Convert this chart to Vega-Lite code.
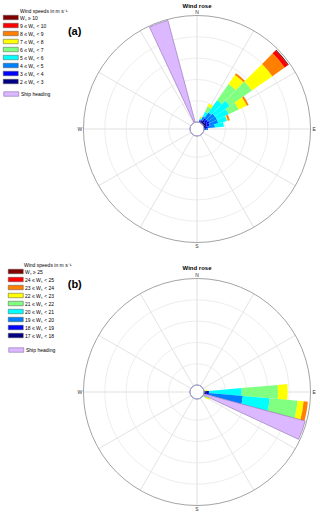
{
  "$schema": "https://vega.github.io/schema/vega-lite/v6.json",
  "padding": {"left": 3, "top": 2, "right": 0, "bottom": 0},
  "spacing": 37,
  "bounds": "flush",
  "config": {"view": {"stroke": null}, "font": "Liberation Sans"},
  "datasets": {
    "rings": [{"v": 1}, {"v": 2}, {"v": 3}, {"v": 4}],
    "outer": [{"v": 5}],
    "hole": [{"v": 0}],
    "spokes": [{"a": 0}, {"a": 30}, {"a": 60}, {"a": 90}, {"a": 120}, {"a": 150}, {"a": 180}, {"a": 210}, {"a": 240}, {"a": 270}, {"a": 300}, {"a": 330}],
    "dirs": [{"lab": "N", "a": 0}, {"lab": "E", "a": 90}, {"lab": "S", "a": 180}, {"lab": "W", "a": 270}],
    "catsA": [{"k": 10, "s": "Wₛ ≥ 10"}, {"k": 9, "s": "9 ≤ Wₛ < 10"}, {"k": 8, "s": "8 ≤ Wₛ < 9"}, {"k": 7, "s": "7 ≤ Wₛ < 8"}, {"k": 6, "s": "6 ≤ Wₛ < 7"}, {"k": 5, "s": "5 ≤ Wₛ < 6"}, {"k": 4, "s": "4 ≤ Wₛ < 5"}, {"k": 3, "s": "3 ≤ Wₛ < 4"}, {"k": 2, "s": "2 ≤ Wₛ < 3"}],
    "catsB": [{"k": 25, "s": "Wₛ ≥ 25"}, {"k": 24, "s": "24 ≤ Wₛ < 25"}, {"k": 23, "s": "23 ≤ Wₛ < 24"}, {"k": 22, "s": "22 ≤ Wₛ < 23"}, {"k": 21, "s": "21 ≤ Wₛ < 22"}, {"k": 20, "s": "20 ≤ Wₛ < 21"}, {"k": 19, "s": "19 ≤ Wₛ < 20"}, {"k": 18, "s": "18 ≤ Wₛ < 19"}, {"k": 17, "s": "17 ≤ Wₛ < 18"}],
    "windA": [
      {"d0": 15, "d1": 25, "k": 2, "f": 0.047}, {"d0": 15, "d1": 25, "k": 3, "f": 0.047}, {"d0": 15, "d1": 25, "k": 4, "f": 0.047}, {"d0": 15, "d1": 25, "k": 5, "f": 0.047}, {"d0": 15, "d1": 25, "k": 6, "f": 0.047}, {"d0": 15, "d1": 25, "k": 7, "f": 0.047},
      {"d0": 25, "d1": 35, "k": 2, "f": 0.094}, {"d0": 25, "d1": 35, "k": 3, "f": 0.047}, {"d0": 25, "d1": 35, "k": 4, "f": 0.188}, {"d0": 25, "d1": 35, "k": 5, "f": 0.235}, {"d0": 25, "d1": 35, "k": 6, "f": 0.282}, {"d0": 25, "d1": 35, "k": 7, "f": 0.141},
      {"d0": 35, "d1": 45, "k": 2, "f": 0.188}, {"d0": 35, "d1": 45, "k": 3, "f": 0.094}, {"d0": 35, "d1": 45, "k": 4, "f": 0.329}, {"d0": 35, "d1": 45, "k": 5, "f": 0.704}, {"d0": 35, "d1": 45, "k": 6, "f": 0.939}, {"d0": 35, "d1": 45, "k": 7, "f": 0.516}, {"d0": 35, "d1": 45, "k": 8, "f": 0.094},
      {"d0": 45, "d1": 55, "k": 2, "f": 0.141}, {"d0": 45, "d1": 55, "k": 3, "f": 0.141}, {"d0": 45, "d1": 55, "k": 4, "f": 0.423}, {"d0": 45, "d1": 55, "k": 5, "f": 0.845}, {"d0": 45, "d1": 55, "k": 6, "f": 1.268}, {"d0": 45, "d1": 55, "k": 7, "f": 1.174}, {"d0": 45, "d1": 55, "k": 8, "f": 0.704}, {"d0": 45, "d1": 55, "k": 9, "f": 0.188}, {"d0": 45, "d1": 55, "k": 10, "f": 0.047},
      {"d0": 55, "d1": 65, "k": 2, "f": 0.188}, {"d0": 55, "d1": 65, "k": 3, "f": 0.141}, {"d0": 55, "d1": 65, "k": 4, "f": 0.376}, {"d0": 55, "d1": 65, "k": 5, "f": 0.61}, {"d0": 55, "d1": 65, "k": 6, "f": 0.516}, {"d0": 55, "d1": 65, "k": 7, "f": 0.423}, {"d0": 55, "d1": 65, "k": 8, "f": 0.094},
      {"d0": 65, "d1": 75, "k": 2, "f": 0.141}, {"d0": 65, "d1": 75, "k": 3, "f": 0.141}, {"d0": 65, "d1": 75, "k": 4, "f": 0.423}, {"d0": 65, "d1": 75, "k": 5, "f": 0.423}, {"d0": 65, "d1": 75, "k": 6, "f": 0.023}, {"d0": 65, "d1": 75, "k": 7, "f": 0.023}, {"d0": 65, "d1": 75, "k": 8, "f": 0.094},
      {"d0": 75, "d1": 85, "k": 2, "f": 0.094}, {"d0": 75, "d1": 85, "k": 3, "f": 0.094}, {"d0": 75, "d1": 85, "k": 4, "f": 0.329}, {"d0": 75, "d1": 85, "k": 5, "f": 0.423},
      {"d0": 85, "d1": 95, "k": 2, "f": 0.047}, {"d0": 85, "d1": 95, "k": 3, "f": 0.047}, {"d0": 85, "d1": 95, "k": 4, "f": 0.094}
    ],
    "windB": [
      {"d0": 75, "d1": 85, "k": 21, "f": 0.07}, {"d0": 75, "d1": 85, "k": 22, "f": 0.07},
      {"d0": 85, "d1": 95, "k": 17, "f": 0.188}, {"d0": 85, "d1": 95, "k": 18, "f": 0.047}, {"d0": 85, "d1": 95, "k": 20, "f": 1.535}, {"d0": 85, "d1": 95, "k": 21, "f": 1.704}, {"d0": 85, "d1": 95, "k": 22, "f": 0.455},
      {"d0": 95, "d1": 105, "k": 17, "f": 0.141}, {"d0": 95, "d1": 105, "k": 18, "f": 0.094}, {"d0": 95, "d1": 105, "k": 19, "f": 1.596}, {"d0": 95, "d1": 105, "k": 20, "f": 1.268}, {"d0": 95, "d1": 105, "k": 21, "f": 1.315}, {"d0": 95, "d1": 105, "k": 22, "f": 0.282}, {"d0": 95, "d1": 105, "k": 23, "f": 0.202},
      {"d0": 115, "d1": 125, "k": 21, "f": 0.188}, {"d0": 115, "d1": 125, "k": 22, "f": 0.141}
    ],
    "shipA": [{"d0": 335, "d1": 345, "h": "Ship heading", "f": 4.95}],
    "shipB": [{"d0": 105, "d1": 115, "h": "Ship heading", "f": 4.93}],
    "panelA": [{"p": "(a)"}],
    "panelB": [{"p": "(b)"}]
  },
  "vconcat": [
    {
      "width": 226,
      "height": 226,
      "title": {"text": "Wind rose", "fontSize": 6, "fontWeight": "bold", "offset": 0, "anchor": "middle", "frame": "group", "color": "#000"},
      "resolve": {"scale": {"color": "independent"}},
      "layer": [
        {
          "data": {"name": "rings"},
          "mark": {"type": "arc", "filled": false, "stroke": "#e0e0e0", "strokeWidth": 0.6},
          "encoding": {
            "theta": {"datum": 0, "type": "quantitative", "scale": {"domain": [0, 360], "range": [0, 6.283185307179586]}},
            "theta2": {"datum": 360},
            "radius": {"field": "v", "type": "quantitative", "stack": null, "scale": {"type": "linear", "domain": [0, 5], "range": [7, 113.5]}}
          }
        },
        {
          "data": {"name": "spokes"},
          "mark": {"type": "arc", "filled": false, "stroke": "#e0e0e0", "strokeWidth": 0.6},
          "encoding": {
            "theta": {"field": "a", "type": "quantitative", "stack": null},
            "theta2": {"field": "a"},
            "radius": {"datum": 5, "type": "quantitative", "stack": null},
            "radius2": {"datum": 0}
          }
        },
        {
          "data": {"name": "outer"},
          "mark": {"type": "arc", "filled": false, "stroke": "#999999", "strokeWidth": 0.9},
          "encoding": {
            "theta": {"datum": 0, "type": "quantitative"},
            "theta2": {"datum": 360},
            "radius": {"field": "v", "type": "quantitative", "stack": null}
          }
        },
        {
          "data": {"name": "windA"},
          "transform": [
            {"lookup": "k", "from": {"data": {"name": "catsA"}, "key": "k", "fields": ["s"]}},
            {"stack": "f", "groupby": ["d0"], "sort": [{"field": "k", "order": "ascending"}], "as": ["r0", "r1"]}
          ],
          "mark": {"type": "arc"},
          "encoding": {
            "theta": {"field": "d0", "type": "quantitative", "stack": null},
            "theta2": {"field": "d1"},
            "radius": {"field": "r1", "type": "quantitative", "stack": null},
            "radius2": {"field": "r0"},
            "color": {
              "field": "s", "type": "nominal",
              "scale": {"domain": ["Wₛ ≥ 10", "9 ≤ Wₛ < 10", "8 ≤ Wₛ < 9", "7 ≤ Wₛ < 8", "6 ≤ Wₛ < 7", "5 ≤ Wₛ < 6", "4 ≤ Wₛ < 5", "3 ≤ Wₛ < 4", "2 ≤ Wₛ < 3"], "range": ["#800000", "#ff0000", "#ff8000", "#ffff00", "#80ff80", "#00ffff", "#0080ff", "#0000ff", "#000080"]},
              "legend": {"orient": "none", "legendX": -81, "legendY": -7.5, "title": "Wind speeds in m s⁻¹", "titleFontSize": 5, "titleFontWeight": "normal", "titleColor": "#000", "titlePadding": 1.5, "labelFontSize": 5, "labelColor": "#000", "labelLimit": 200, "symbolType": "M-1,-1H5.667V1H-1Z", "symbolSize": 20.25, "symbolStrokeColor": "#555555", "symbolStrokeWidth": 0.5, "symbolOpacity": 1, "labelOffset": 12, "rowPadding": 1, "padding": 0, "encode": {"title": {"update": {"dx": {"value": 17}}}}}
            }
          }
        },
        {
          "data": {"name": "shipA"},
          "mark": {"type": "arc", "stroke": "#8a6bb0", "strokeWidth": 0.6},
          "encoding": {
            "theta": {"field": "d0", "type": "quantitative", "stack": null},
            "theta2": {"field": "d1"},
            "radius": {"field": "f", "type": "quantitative", "stack": null},
            "radius2": {"datum": 0},
            "color": {
              "field": "h", "type": "nominal",
              "scale": {"domain": ["Ship heading"], "range": ["#dbb8ff"]},
              "legend": {"orient": "none", "legendX": -81, "legendY": 75, "title": null, "labelFontSize": 5, "labelColor": "#000", "labelLimit": 200, "symbolType": "M-1,-1H5.667V1H-1Z", "symbolSize": 20.25, "symbolStrokeColor": "#8a6bb0", "symbolStrokeWidth": 0.6, "symbolOpacity": 1, "labelOffset": 12, "padding": 0}
            }
          }
        },
        {
          "data": {"name": "hole"},
          "mark": {"type": "arc", "fill": "#ffffff", "stroke": "#a9a6d6", "strokeWidth": 0.7},
          "encoding": {
            "theta": {"datum": 0, "type": "quantitative"},
            "theta2": {"datum": 360},
            "radius": {"field": "v", "type": "quantitative", "stack": null}
          }
        },
        {
          "data": {"name": "dirs"},
          "mark": {"type": "text", "fontSize": 5, "color": "#333333", "align": "center", "baseline": "middle"},
          "encoding": {
            "theta": {"field": "a", "type": "quantitative", "stack": null},
            "radius": {"datum": 5.17, "type": "quantitative"},
            "text": {"field": "lab"}
          }
        },
        {
          "data": {"name": "panelA"},
          "mark": {"type": "text", "fontSize": 11, "fontWeight": "bold", "color": "#000", "align": "center", "baseline": "middle"},
          "encoding": {
            "theta": {"datum": 308.3, "type": "quantitative"},
            "radius": {"datum": 6.99, "type": "quantitative"},
            "text": {"field": "p"}
          }
        }
      ]
    },
    {
      "width": 226,
      "height": 226,
      "title": {"text": "Wind rose", "fontSize": 6, "fontWeight": "bold", "offset": -8.3, "anchor": "middle", "frame": "group", "color": "#000"},
      "resolve": {"scale": {"color": "independent"}},
      "layer": [
        {
          "data": {"name": "rings"},
          "mark": {"type": "arc", "filled": false, "stroke": "#e0e0e0", "strokeWidth": 0.6},
          "encoding": {
            "theta": {"datum": 0, "type": "quantitative", "scale": {"domain": [0, 360], "range": [0, 6.283185307179586]}},
            "theta2": {"datum": 360},
            "radius": {"field": "v", "type": "quantitative", "stack": null, "scale": {"type": "linear", "domain": [0, 5], "range": [7, 113.5]}}
          }
        },
        {
          "data": {"name": "spokes"},
          "mark": {"type": "arc", "filled": false, "stroke": "#e0e0e0", "strokeWidth": 0.6},
          "encoding": {
            "theta": {"field": "a", "type": "quantitative", "stack": null},
            "theta2": {"field": "a"},
            "radius": {"datum": 5, "type": "quantitative", "stack": null},
            "radius2": {"datum": 0}
          }
        },
        {
          "data": {"name": "outer"},
          "mark": {"type": "arc", "filled": false, "stroke": "#999999", "strokeWidth": 0.9},
          "encoding": {
            "theta": {"datum": 0, "type": "quantitative"},
            "theta2": {"datum": 360},
            "radius": {"field": "v", "type": "quantitative", "stack": null}
          }
        },
        {
          "data": {"name": "windB"},
          "transform": [
            {"lookup": "k", "from": {"data": {"name": "catsB"}, "key": "k", "fields": ["s"]}},
            {"stack": "f", "groupby": ["d0"], "sort": [{"field": "k", "order": "ascending"}], "as": ["r0", "r1"]}
          ],
          "mark": {"type": "arc"},
          "encoding": {
            "theta": {"field": "d0", "type": "quantitative", "stack": null},
            "theta2": {"field": "d1"},
            "radius": {"field": "r1", "type": "quantitative", "stack": null},
            "radius2": {"field": "r0"},
            "color": {
              "field": "s", "type": "nominal",
              "scale": {"domain": ["Wₛ ≥ 25", "24 ≤ Wₛ < 25", "23 ≤ Wₛ < 24", "22 ≤ Wₛ < 23", "21 ≤ Wₛ < 22", "20 ≤ Wₛ < 21", "19 ≤ Wₛ < 20", "18 ≤ Wₛ < 19", "17 ≤ Wₛ < 18"], "range": ["#800000", "#ff0000", "#ff8000", "#ffff00", "#80ff80", "#00ffff", "#0080ff", "#0000ff", "#000080"]},
              "legend": {"orient": "none", "legendX": -76, "legendY": -16.5, "title": "Wind speeds in m s⁻¹", "titleFontSize": 5, "titleFontWeight": "normal", "titleColor": "#000", "titlePadding": 1.5, "labelFontSize": 5, "labelColor": "#000", "labelLimit": 200, "symbolType": "M-1,-1H5.667V1H-1Z", "symbolSize": 20.25, "symbolStrokeColor": "#555555", "symbolStrokeWidth": 0.5, "symbolOpacity": 1, "labelOffset": 12, "rowPadding": 1, "padding": 0, "encode": {"title": {"update": {"dx": {"value": 16}}}}}
            }
          }
        },
        {
          "data": {"name": "shipB"},
          "mark": {"type": "arc", "stroke": "#8a6bb0", "strokeWidth": 0.6},
          "encoding": {
            "theta": {"field": "d0", "type": "quantitative", "stack": null},
            "theta2": {"field": "d1"},
            "radius": {"field": "f", "type": "quantitative", "stack": null},
            "radius2": {"datum": 0},
            "color": {
              "field": "h", "type": "nominal",
              "scale": {"domain": ["Ship heading"], "range": ["#dbb8ff"]},
              "legend": {"orient": "none", "legendX": -76, "legendY": 68, "title": null, "labelFontSize": 5, "labelColor": "#000", "labelLimit": 200, "symbolType": "M-1,-1H5.667V1H-1Z", "symbolSize": 20.25, "symbolStrokeColor": "#8a6bb0", "symbolStrokeWidth": 0.6, "symbolOpacity": 1, "labelOffset": 12, "padding": 0}
            }
          }
        },
        {
          "data": {"name": "hole"},
          "mark": {"type": "arc", "fill": "#ffffff", "stroke": "#a9a6d6", "strokeWidth": 0.7},
          "encoding": {
            "theta": {"datum": 0, "type": "quantitative"},
            "theta2": {"datum": 360},
            "radius": {"field": "v", "type": "quantitative", "stack": null}
          }
        },
        {
          "data": {"name": "dirs"},
          "mark": {"type": "text", "fontSize": 5, "color": "#333333", "align": "center", "baseline": "middle"},
          "encoding": {
            "theta": {"field": "a", "type": "quantitative", "stack": null},
            "radius": {"datum": 5.17, "type": "quantitative"},
            "text": {"field": "lab"}
          }
        },
        {
          "data": {"name": "panelB"},
          "mark": {"type": "text", "fontSize": 11, "fontWeight": "bold", "color": "#000", "align": "center", "baseline": "middle"},
          "encoding": {
            "theta": {"datum": 311.2, "type": "quantitative"},
            "radius": {"datum": 7.3, "type": "quantitative"},
            "text": {"field": "p"}
          }
        }
      ]
    }
  ]
}
